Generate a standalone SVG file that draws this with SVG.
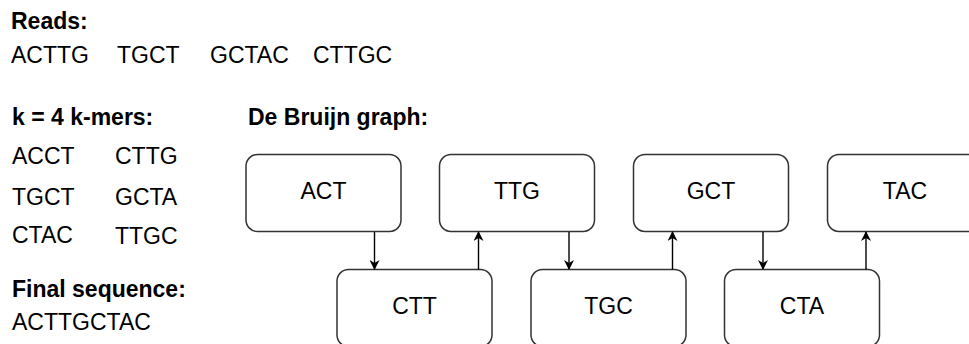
<svg xmlns="http://www.w3.org/2000/svg" width="969" height="344" viewBox="0 0 969 344">
  <style>
    text { font-family: "Liberation Sans", Arial, sans-serif; font-size: 23px; fill: #000; }
    .h { font-weight: bold; }
    .lbl { text-anchor: middle; }
    .box { fill: #fff; stroke: #333; stroke-width: 1.5; }
    .edge { fill: none; stroke: #000; stroke-width: 1.4; }
  </style>
  <defs>
    <marker id="arrow" viewBox="0 0 10 10" refX="9" refY="5" markerWidth="10" markerHeight="10" markerUnits="userSpaceOnUse" orient="auto">
      <path d="M0,0 L10,5 L0,10 L3,5 Z" fill="#000"/>
    </marker>
  </defs>
  <rect width="969" height="344" fill="#fff"/>

  <!-- left-hand notes -->
  <g id="reads">
    <text class="h" x="11" y="29">Reads:</text>
    <text x="11" y="63">ACTTG</text>
    <text x="117" y="63">TGCT</text>
    <text x="210" y="63">GCTAC</text>
    <text x="313" y="63">CTTGC</text>
  </g>
  <g id="kmers">
    <text class="h" x="12" y="125">k = 4 k-mers:</text>
    <text x="12" y="164">ACCT</text>
    <text x="115" y="164">CTTG</text>
    <text x="12" y="205">TGCT</text>
    <text x="115" y="205">GCTA</text>
    <text x="12" y="243">CTAC</text>
    <text x="115" y="244">TTGC</text>
  </g>
  <g id="final">
    <text class="h" x="12" y="297">Final sequence:</text>
    <text x="12" y="330">ACTTGCTAC</text>
  </g>
  <g id="graph-title">
    <text class="h" x="248" y="125">De Bruijn graph:</text>
  </g>

  <!-- graph nodes -->
  <g id="n-act"><rect class="box" x="246" y="154.5" width="155" height="77" rx="11.5"/><text class="lbl" x="323.5" y="199">ACT</text></g>
  <g id="n-ttg"><rect class="box" x="439.5" y="154.5" width="155" height="77" rx="11.5"/><text class="lbl" x="517" y="199">TTG</text></g>
  <g id="n-gct"><rect class="box" x="633.5" y="154.5" width="155" height="77" rx="11.5"/><text class="lbl" x="711" y="199">GCT</text></g>
  <g id="n-tac"><rect class="box" x="827.5" y="154.5" width="155" height="77" rx="11.5"/><text class="lbl" x="905" y="199">TAC</text></g>
  <g id="n-ctt"><rect class="box" x="337" y="269.5" width="155" height="77" rx="11.5"/><text class="lbl" x="414.5" y="314">CTT</text></g>
  <g id="n-tgc"><rect class="box" x="531" y="269.5" width="155" height="77" rx="11.5"/><text class="lbl" x="608.5" y="314">TGC</text></g>
  <g id="n-cta"><rect class="box" x="724.5" y="269.5" width="155" height="77" rx="11.5"/><text class="lbl" x="802" y="314">CTA</text></g>

  <!-- edges -->
  <g id="edges">
    <line class="edge" x1="374.5" y1="232" x2="374.5" y2="269" marker-end="url(#arrow)"/>
    <line class="edge" x1="478.5" y1="269.5" x2="478.5" y2="232" marker-end="url(#arrow)"/>
    <line class="edge" x1="569" y1="232" x2="569" y2="269" marker-end="url(#arrow)"/>
    <line class="edge" x1="672.5" y1="269.5" x2="672.5" y2="232" marker-end="url(#arrow)"/>
    <line class="edge" x1="763" y1="232" x2="763" y2="269" marker-end="url(#arrow)"/>
    <line class="edge" x1="866" y1="269.5" x2="866" y2="232" marker-end="url(#arrow)"/>
  </g>
</svg>
